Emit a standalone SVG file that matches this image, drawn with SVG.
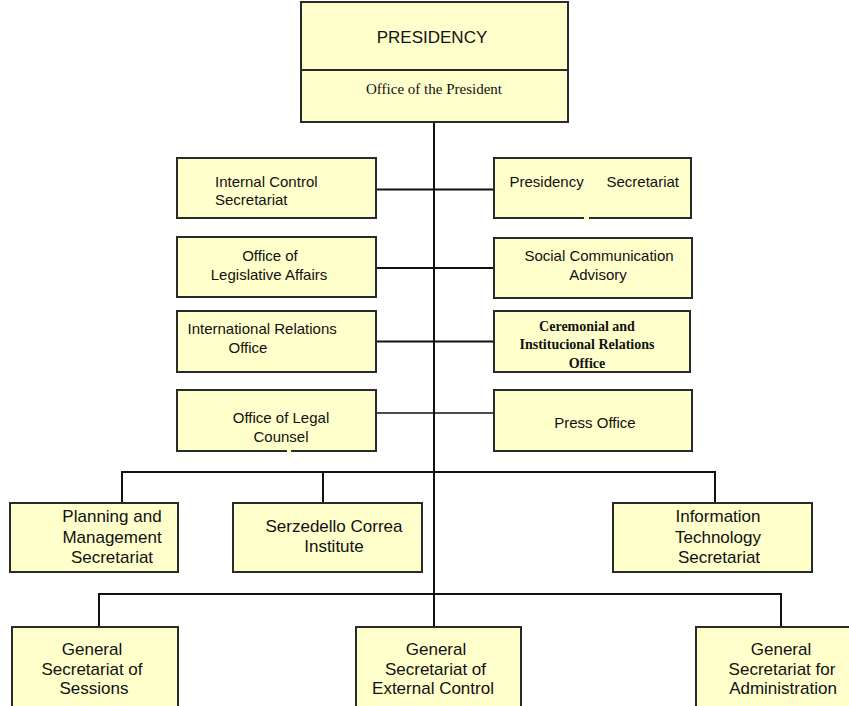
<svg xmlns="http://www.w3.org/2000/svg" width="849" height="706" viewBox="0 0 849 706">
<style>
.box{fill:#FFFFCC;stroke:#2a2a2a;stroke-width:2}
.t{font-family:"Liberation Sans",Arial,sans-serif;font-size:15px;fill:#111}
.m{text-anchor:middle}
.s{font-family:"Liberation Serif","Times New Roman",serif;fill:#111}
.b17{font-size:17px}
.c{fill:none;stroke:#111;stroke-width:2}
.patch{fill:#FFFFCC;stroke:none}
</style>
<rect width="849" height="706" fill="#fff"/>
<g id="connectors">
<path class="c" d="M434 122V627"/>
<path class="c" d="M376 189.5H494"/>
<path class="c" d="M377 268H494"/>
<path class="c" d="M376 341.5H494"/>
<path class="c" d="M373 413H496" style="stroke-width:1.5"/>
<path class="c" d="M122 503V472H715V503"/>
<path class="c" d="M323 472V503"/>
<path class="c" d="M99 627V594H781V627"/>
</g>
<g id="presidency">
<rect class="box" x="301" y="2" width="267" height="120"/>
<line x1="301" y1="70" x2="568" y2="70" stroke="#2a2a2a" stroke-width="2"/>
<text class="t m" x="432" y="43" style="font-size:17px">PRESIDENCY</text>
<text class="s m" x="434" y="94" style="font-size:15px">Office of the President</text>
</g>
<g id="internal-control">
<rect class="box" x="177" y="158" width="199" height="60"/>
<text class="t" x="215" y="186.5">Internal Control</text>
<text class="t" x="215" y="205">Secretariat</text>
</g>
<g id="presidency-secretariat">
<rect class="box" x="494" y="158" width="197" height="60"/>
<text class="t" x="509.5" y="186.5">Presidency</text>
<text class="t" x="606.5" y="186.5">Secretariat</text>
<rect class="patch" x="584" y="216" width="5" height="6"/>
</g>
<g id="legislative-affairs">
<rect class="box" x="177" y="237" width="199" height="60"/>
<text class="t m" x="270" y="261">Office of</text>
<text class="t m" x="269" y="280">Legislative Affairs</text>
</g>
<g id="social-communication">
<rect class="box" x="494" y="238" width="198" height="60"/>
<text class="t m" x="599" y="261">Social Communication</text>
<text class="t m" x="598" y="280">Advisory</text>
</g>
<g id="international-relations">
<rect class="box" x="177" y="311" width="199" height="61"/>
<text class="t" x="187.5" y="333.5">International Relations</text>
<text class="t m" x="248" y="353">Office</text>
</g>
<g id="ceremonial">
<rect class="box" x="494" y="311" width="196" height="61"/>
<text class="s m" x="587" y="331" style="font-size:14px;font-weight:bold">Ceremonial and</text>
<text class="s m" x="587" y="349" style="font-size:14px;font-weight:bold">Institucional Relations</text>
<text class="s m" x="587" y="367.5" style="font-size:14px;font-weight:bold">Office</text>
</g>
<g id="legal-counsel">
<rect class="box" x="177" y="390" width="199" height="61"/>
<text class="t m" x="281" y="423">Office of Legal</text>
<text class="t m" x="281" y="442">Counsel</text>
<rect class="patch" x="287" y="449" width="4" height="6"/>
</g>
<g id="press-office">
<rect class="box" x="494" y="390" width="198" height="61"/>
<text class="t m" x="595" y="428">Press Office</text>
</g>
<g id="planning">
<rect class="box" x="10" y="503" width="168" height="69"/>
<text class="t m b17" x="112" y="522">Planning and</text>
<text class="t m b17" x="112" y="543">Management</text>
<text class="t m b17" x="112" y="563">Secretariat</text>
</g>
<g id="serzedello">
<rect class="box" x="233" y="503" width="189" height="69"/>
<text class="t m b17" x="334" y="532">Serzedello Correa</text>
<text class="t m b17" x="334" y="552">Institute</text>
</g>
<g id="information-technology">
<rect class="box" x="613" y="503" width="199" height="69"/>
<text class="t m b17" x="718" y="522">Information</text>
<text class="t m b17" x="718" y="543">Technology</text>
<text class="t m b17" x="719" y="563">Secretariat</text>
</g>
<g id="sessions">
<rect class="box" x="12" y="627" width="166" height="90"/>
<text class="t m b17" x="92" y="655">General</text>
<text class="t m b17" x="92" y="675">Secretariat of</text>
<text class="t m b17" x="94" y="694">Sessions</text>
</g>
<g id="external-control">
<rect class="box" x="356" y="627" width="165" height="90"/>
<text class="t m b17" x="436" y="655">General</text>
<text class="t m b17" x="435.5" y="675">Secretariat of</text>
<text class="t m b17" x="433" y="694">External Control</text>
</g>
<g id="administration">
<rect class="box" x="696" y="627" width="160" height="90"/>
<text class="t m b17" x="781" y="655">General</text>
<text class="t m b17" x="782" y="675">Secretariat  for</text>
<text class="t m b17" x="783" y="694">Administration</text>
</g>
</svg>
